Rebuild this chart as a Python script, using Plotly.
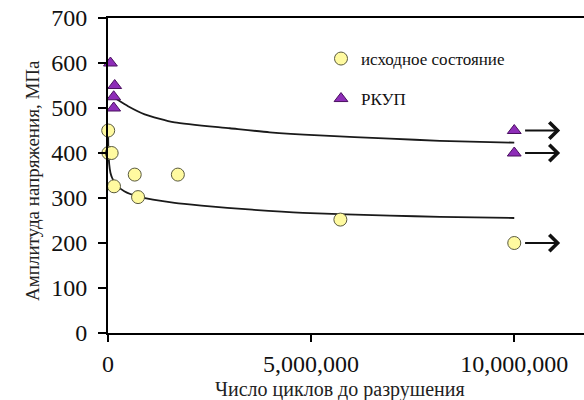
import plotly.graph_objects as go

# Fatigue test results: cycles to failure vs stress amplitude
initial_cycles = [5000, 10000, 90000, 148000, 658000, 740000, 1720000, 5720000, 10000000]
initial_stress = [450, 400, 400, 326, 352, 302, 352, 252, 200]

ecap_cycles = [60000, 165000, 140000, 140000, 10000000, 10000000]
ecap_stress = [600, 550, 525, 500, 450, 400]

# Run-out specimens (test stopped without failure)
runout_cycles = [10000000, 10000000, 10000000]
runout_stress = [450, 400, 200]

# Trend curves
upper_fit_cycles = [120000, 207000, 493000, 904000, 1640000, 3000000, 3980000,
                    5200000, 6940000, 8170000, 10000000]
upper_fit_stress = [525, 520, 504, 486, 468, 455, 446, 439, 432, 427, 423]

lower_fit_cycles = [2000, 10000, 30000, 60000, 100000, 200000, 400000, 760000,
                    1640000, 2300000, 3550000, 4800000, 6940000, 8170000, 10000000]
lower_fit_stress = [452, 405, 375, 356, 345, 330, 315, 303,
                    289, 283, 274, 267, 261, 258, 255.5]

x_ticks = [0, 5000000, 10000000]
x_tick_text = ["0", "5,000,000", "10,000,000"]
y_ticks = [0, 100, 200, 300, 400, 500, 600, 700]

serif = "Liberation Serif"

fig = go.Figure()

fig.add_trace(go.Scatter(
    x=upper_fit_cycles, y=upper_fit_stress, mode="lines",
    line=dict(color="#1a1a1a", width=1.8, shape="spline", smoothing=0.6),
    showlegend=False, hoverinfo="skip", cliponaxis=False))
fig.add_trace(go.Scatter(
    x=lower_fit_cycles, y=lower_fit_stress, mode="lines",
    line=dict(color="#1a1a1a", width=1.8, shape="spline", smoothing=0.6),
    showlegend=False, hoverinfo="skip", cliponaxis=False))

fig.add_trace(go.Scatter(
    x=initial_cycles, y=initial_stress, mode="markers",
    name="исходное состояние",
    marker=dict(symbol="circle", size=13, color="#FFFAA0",
                line=dict(color="#5a5a40", width=1)),
    cliponaxis=False, legend="legend"))
fig.add_trace(go.Scatter(
    x=ecap_cycles, y=ecap_stress, mode="markers",
    name="РКУП",
    marker=dict(symbol="triangle-up", size=12, color="#8E2DB8",
                line=dict(color="#4a1060", width=1)),
    cliponaxis=False, legend="legend2"))

# Arrows for run-out specimens
arrow_span = 900000
arrow_gap = 230000
annotations = []
for cx, sy in zip(runout_cycles, runout_stress):
    annotations.append(dict(
        x=cx + arrow_gap + arrow_span, y=sy, ax=cx + arrow_gap, ay=sy,
        xref="x", yref="y", axref="x", ayref="y",
        showarrow=True, arrowhead=4, arrowsize=1.6, arrowwidth=2,
        arrowcolor="#111111", text=""))

annotations.append(dict(
    text="Число циклов до разрушения", x=340, y=389, xref="paper", yref="paper",
    xanchor="center", yanchor="middle",
    showarrow=False, font=dict(family=serif, size=20, color="#222")))
annotations.append(dict(
    text="Амплитуда напряжения, МПа", x=32, y=181, textangle=-90,
    xanchor="center", yanchor="middle",
    xref="paper", yref="paper", showarrow=False,
    font=dict(family=serif, size=19, color="#222")))

# convert pixel-placed title positions to paper coords
W, H = 584, 400
ML, MR, MT, MB = 108, 0, 18, 67
pw, ph = W - ML - MR, H - MT - MB
for a in annotations[-2:]:
    a["x"] = (a["x"] - ML) / pw
    a["y"] = 1 - (a["y"] - MT) / ph

fig.update_layout(
    width=W, height=H,
    margin=dict(l=ML, r=MR, t=MT, b=MB),
    paper_bgcolor="white", plot_bgcolor="white",
    font=dict(family=serif, color="#111"),
    annotations=annotations,
    legend=dict(x=(321 - ML) / pw, y=1 - (41 - MT) / ph, xanchor="left", yanchor="top",
                bgcolor="rgba(0,0,0,0)", font=dict(family=serif, size=17, color="#111")),
    legend2=dict(x=(321 - ML) / pw, y=1 - (81 - MT) / ph, xanchor="left", yanchor="top",
                 bgcolor="rgba(0,0,0,0)", font=dict(family=serif, size=17, color="#111")),
)

fig.update_xaxes(
    range=[0, 11717000], tickvals=x_ticks, ticktext=x_tick_text,
    showgrid=False, zeroline=False, showline=True, linecolor="black", linewidth=2,
    mirror=True, ticks="outside", ticklen=7, tickwidth=1.5, tickcolor="black",
    ticklabelstandoff=1,
    tickfont=dict(family=serif, size=24, color="#111"))
fig.update_yaxes(
    range=[0, 700], tickvals=y_ticks,
    showgrid=False, zeroline=False, showline=True, linecolor="black", linewidth=2,
    ticks="outside", ticklen=8, tickwidth=1.5, tickcolor="black",
    ticklabelstandoff=6,
    tickfont=dict(family=serif, size=24, color="#111"))

fig.write_html("out.html")
